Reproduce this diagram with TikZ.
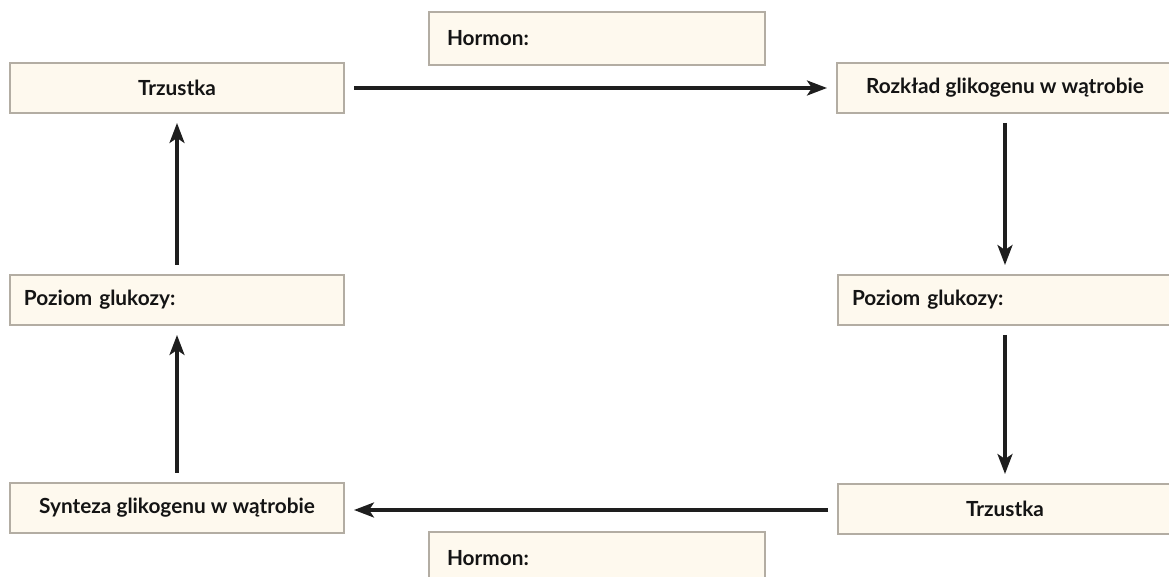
\documentclass[tikz,border=0pt]{standalone}
\usepackage{fontspec}
\setmainfont{Lato}
\usetikzlibrary{arrows.meta}

\definecolor{boxfill}{HTML}{FEF9EE}
\definecolor{boxline}{HTML}{B3ADA3}
\definecolor{arrowcol}{HTML}{1E1E1E}

\tikzset{
  box/.style={draw=boxline, line width=1pt, fill=boxfill, minimum height=25pt,
    minimum width=167pt, inner sep=0pt, font=\fontsize{10.4}{12}\selectfont\bfseries, text=black!92},
  leftbox/.style={box, text width=167pt-14pt, align=left},
  arr/.style={-{Stealth[length=10pt,width=7.5pt,inset=2.5pt]}, line width=1.6pt, draw=arrowcol,
    shorten <=4.5pt, shorten >=4.5pt}
}

\begin{document}
\begin{tikzpicture}[x=0.5pt, y=-0.5pt]
    \useasboundingbox (0,0) rectangle (1169,577);

    % Nodes
    \node[box] (trzA) at (177,88) {Trzustka};
    \node[leftbox, minimum width=168pt, minimum height=26.5pt, text width=168pt-18pt] (hormonA) at (597,38.5) {Hormon:};
    \node[box, minimum width=168pt] (rozklad) at (1005,88) {Rozkład glikogenu w wątrobie};
    \node[leftbox] (poziomA) at (177,300) {Poziom glukozy:};
    \node[leftbox] (poziomB) at (1005,300) {Poziom glukozy:};
    \node[box] (synteza) at (177,508) {Synteza glikogenu w wątrobie};
    \node[box] (trzB) at (1005,509) {Trzustka};
    \node[leftbox, minimum width=168pt, minimum height=26.5pt, text width=168pt-18pt] (hormonB) at (597,558.5) {Hormon:};

    % Edges
    \draw[arr] (trzA) -- (rozklad);
    \draw[arr] (rozklad) -- (poziomB);
    \draw[arr] (poziomB) -- (trzB);
    \draw[arr] (trzB.west |- 0,510) -- (synteza.east |- 0,510);
    \draw[arr] (synteza) -- (poziomA);
    \draw[arr] (poziomA) -- (trzA);
  \end{tikzpicture}
\end{document}
